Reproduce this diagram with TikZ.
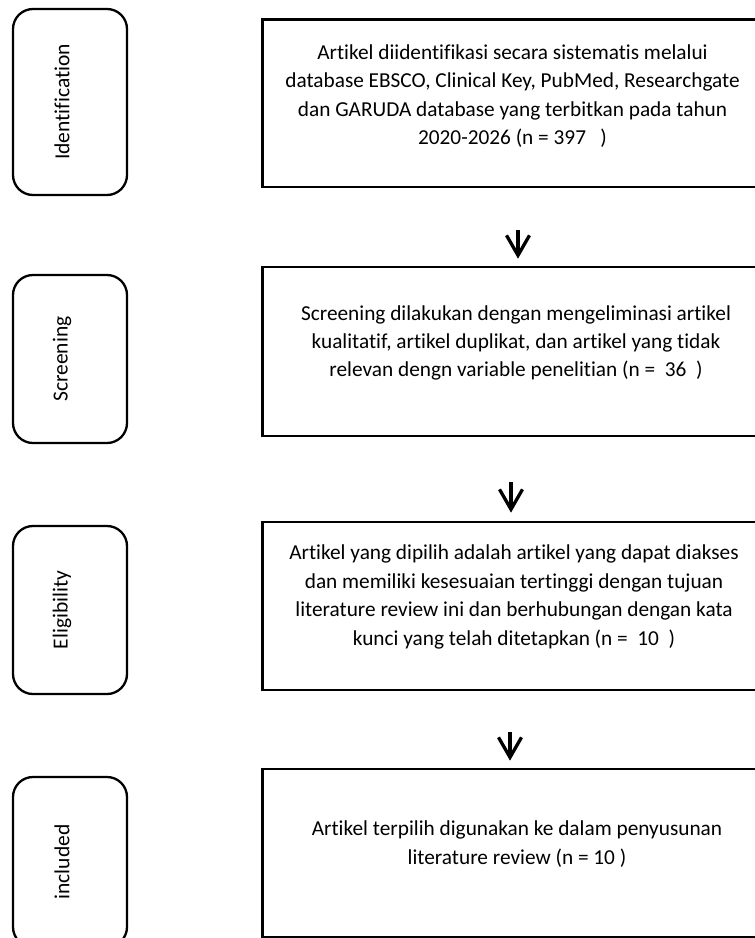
\documentclass[tikz,border=0pt]{standalone}
\usepackage{fontspec}
\setmainfont{Carlito}[Ligatures={NoCommon}, RawFeature={-liga;-clig}]
\usetikzlibrary{arrows.meta}
\begin{document}
\begin{tikzpicture}[x=1pt,y=-1pt,
  stage/.style={draw, line width=2.3pt, rounded corners=20pt,
    minimum width=114pt, inner sep=0pt},
  stagelabel/.style={rotate=90, inner sep=0pt, font=\fontsize{21.5pt}{26pt}\selectfont},
  stepbox/.style={draw, line width=2.7pt, minimum width=505pt, inner sep=0pt},
  boxtext/.style={align=center, inner sep=0pt, font=\fontsize{21.3pt}{28.4pt}\selectfont},
  arr/.style={line width=3.3pt, -{Straight Barb[length=20pt,width=23pt]}}]
\clip (0,0) rectangle (755,938);
% stage boxes
\node[stage, minimum height=186pt] (s1) at (70,102) {};
\node[stage, minimum height=168pt] (s2) at (70,359) {};
\node[stage, minimum height=168pt] (s3) at (70,610) {};
\node[stage, minimum height=170pt] (s4) at (70,862) {};
% stage labels
\node[stagelabel] (l1) at ([xshift=-8pt]s1.center) {Identification};
\node[stagelabel] (l2) at ([xshift=-8pt]s2.center) {Screening};
\node[stagelabel] (l3) at ([xshift=-8pt]s3.center) {Eligibility};
\node[stagelabel] (l4) at ([xshift=-8pt]s4.center) {included};
% process boxes
\node[stepbox, minimum height=167.5pt] (b1) at (515,103.25) {};
\node[stepbox, minimum height=169pt] (b2) at (515,351.5) {};
\node[stepbox, minimum height=168pt] (b3) at (515,606) {};
\node[stepbox, minimum height=168pt] (b4) at (515,853) {};
% texts
\node[boxtext] (t1) at (512.5,96) {Artikel diidentifikasi secara sistematis melalui\\
database EBSCO, Clinical Key, PubMed, Researchgate\\
dan GARUDA database yang terbitkan pada tahun\\
2020-2026 (n = 397\ \ \ )};
\node[boxtext] (t2) at (516,343) {Screening dilakukan dengan mengeliminasi artikel\\
kualitatif, artikel duplikat, dan artikel yang tidak\\
relevan dengn variable penelitian (n =\ \ 36\ \ )};
\node[boxtext] (t3) at (514,597) {Artikel yang dipilih adalah artikel yang dapat diakses\\
dan memiliki kesesuaian tertinggi dengan tujuan\\
literature review ini dan berhubungan dengan kata\\
kunci yang telah ditetapkan (n =\ \ 10\ \ )};
\node[boxtext] (t4) at (517,844) {Artikel terpilih digunakan ke dalam penyusunan\\
literature review (n = 10 )};
% arrows
\draw[arr] ([xshift=3pt,yshift=-42pt]b1.south) -- ([xshift=3pt,yshift=7pt]b2.north);
\draw[arr] ([xshift=-4pt,yshift=-45pt]b2.south) -- ([xshift=-4pt,yshift=8pt]b3.north);
\draw[arr] ([xshift=-5pt,yshift=-41pt]b3.south) -- ([xshift=-5pt,yshift=7pt]b4.north);
\end{tikzpicture}
\end{document}
